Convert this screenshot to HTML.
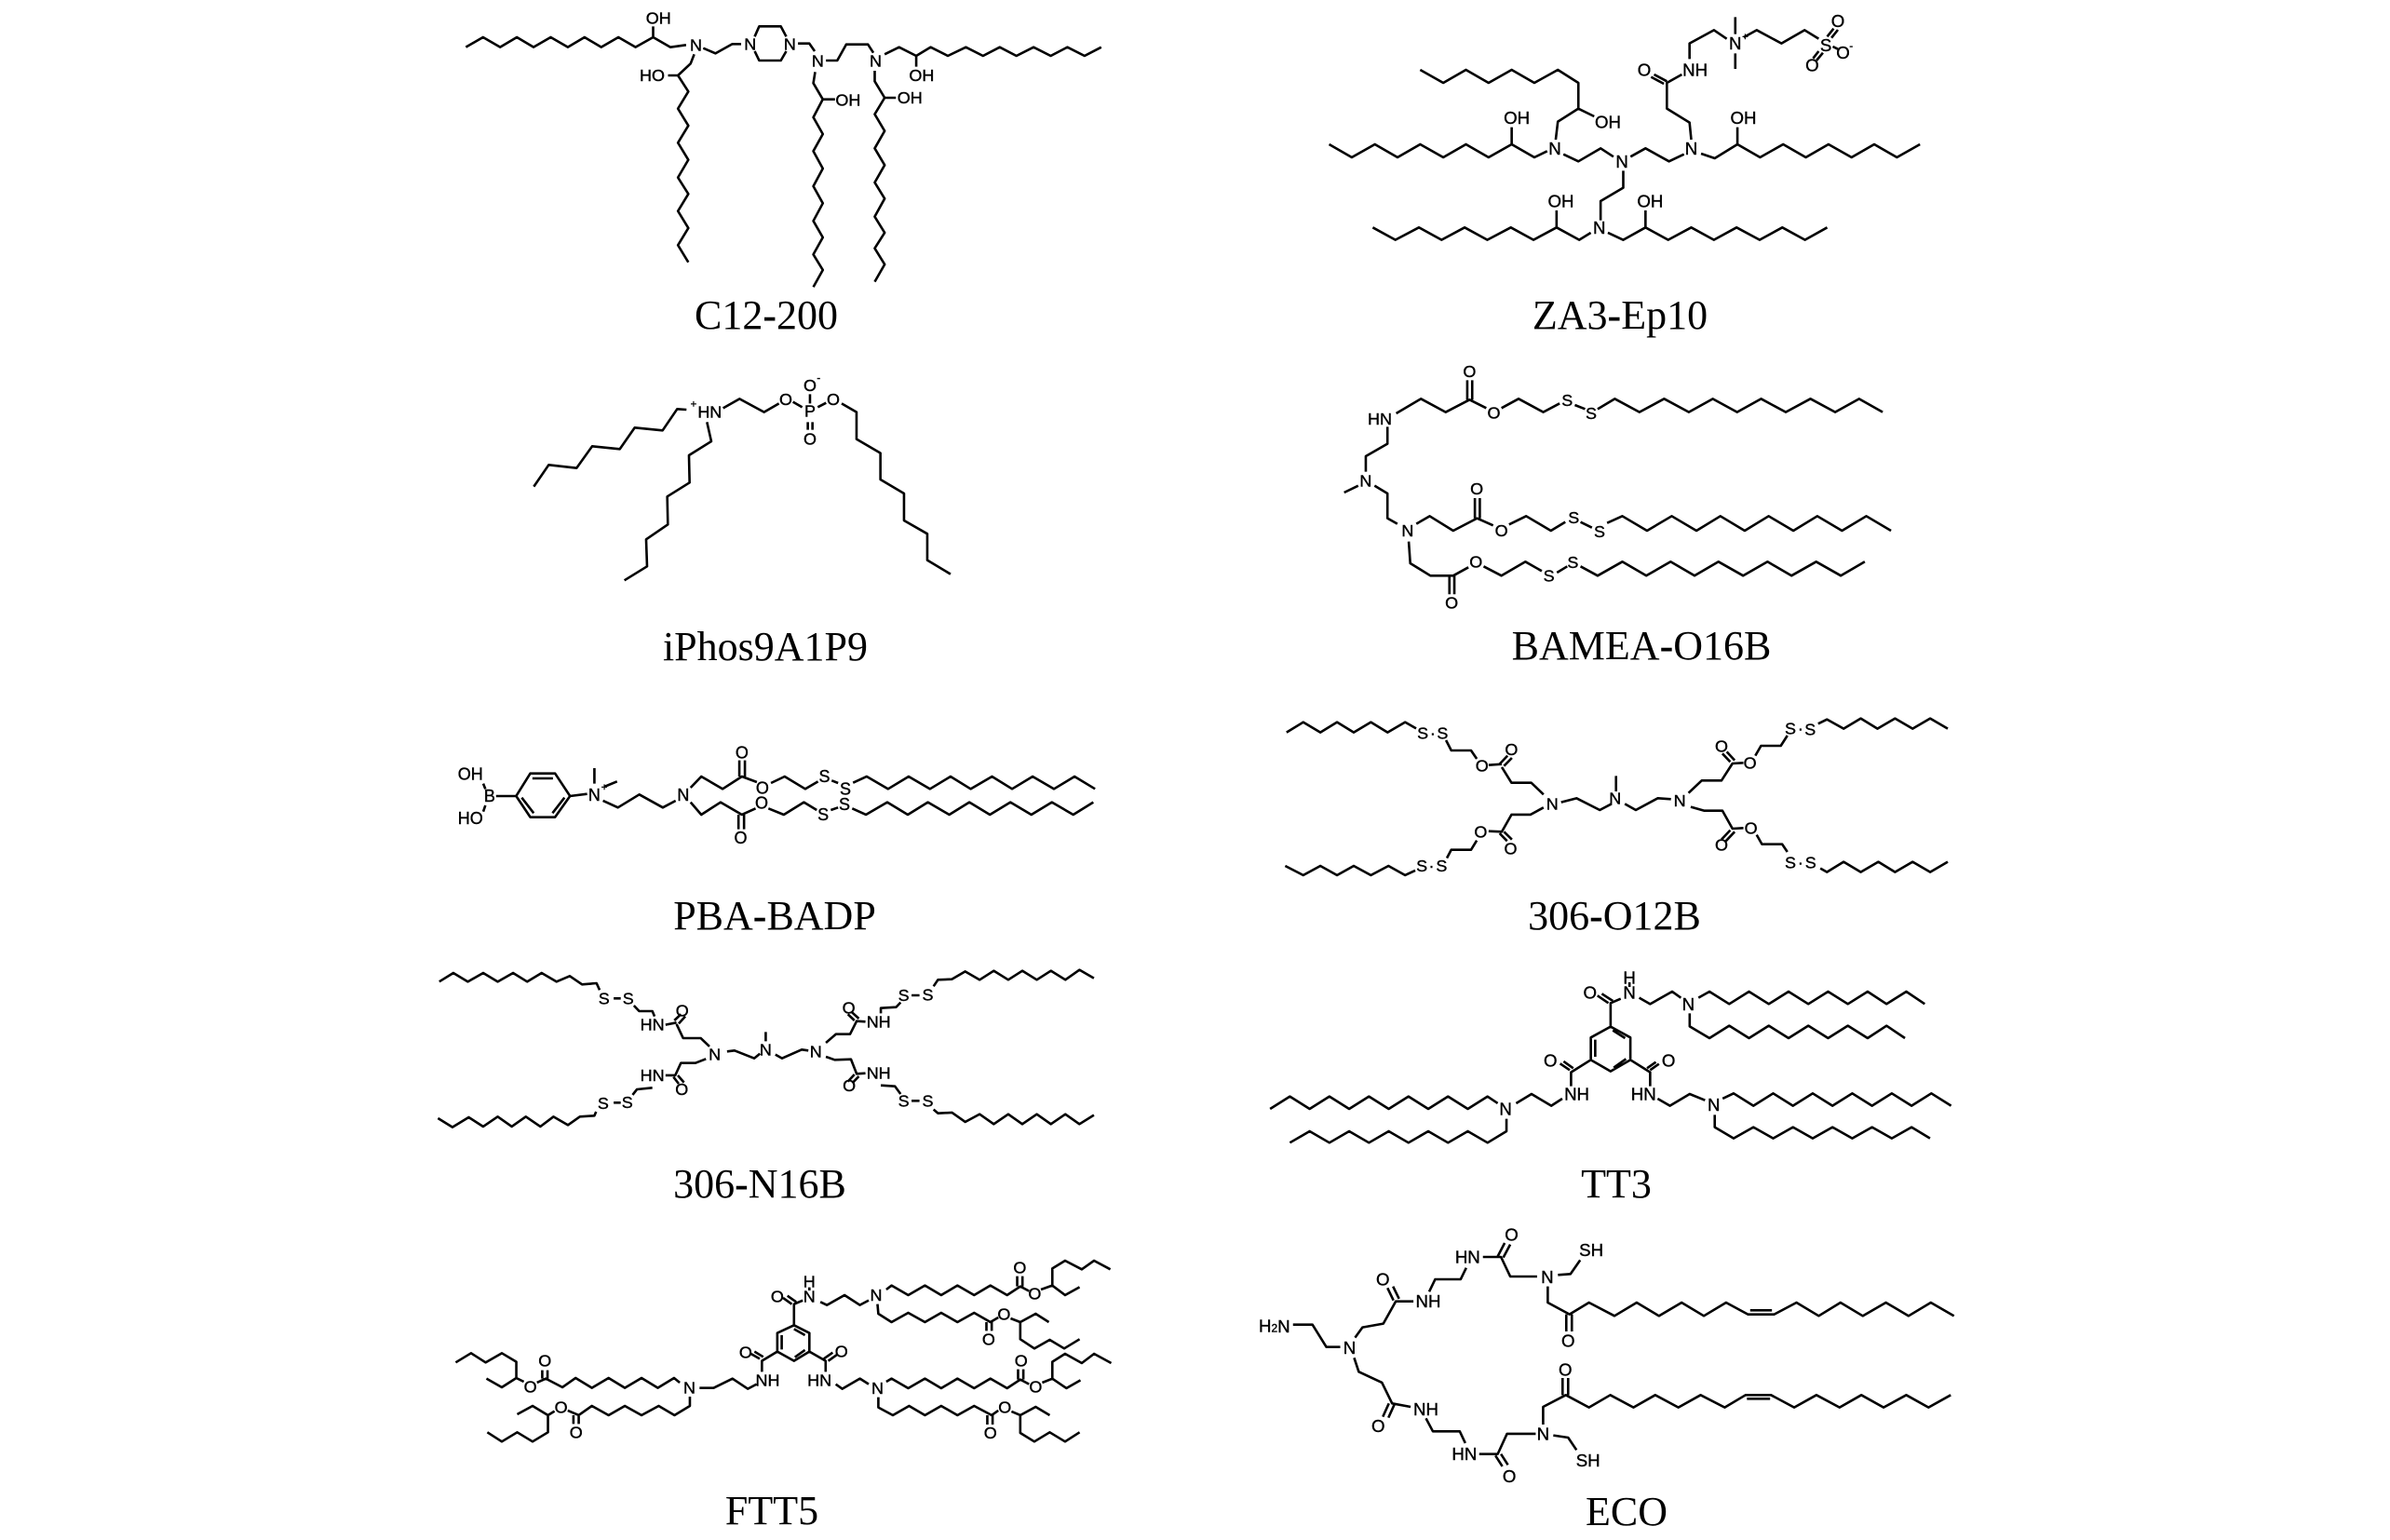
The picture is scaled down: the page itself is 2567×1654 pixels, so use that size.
<!DOCTYPE html>
<html><head><meta charset="utf-8"><title>Lipids</title>
<style>
html,body{margin:0;padding:0;background:#fff}
svg{display:block}
path{fill:none;stroke:#000;stroke-width:2.6;vector-effect:non-scaling-stroke;stroke-linejoin:round}
.m text{font-family:"Liberation Sans",sans-serif;text-anchor:middle;dominant-baseline:central;fill:#000;stroke:#000;stroke-width:1.2;transform-box:fill-box;transform-origin:center}
.m text.s{font-size:34px}
.a text{font-size:54px;transform:scaleX(.688)}
.b text{font-size:56px;transform:scaleX(.726)}
.c text{font-size:54px}
.d text{font-size:54px;transform:scaleX(.817)}
.e text{font-size:54px;transform:scaleX(.726)}
.f text{font-size:54px;transform:scaleX(.706)}
.g text{font-size:56px;transform:scaleX(.706)}
.h text{font-size:56px;transform:scaleX(.67)}
.cap{font-family:"Liberation Serif",serif;font-size:44px;text-anchor:middle;fill:#000}
.cap tspan{font-weight:bold}
</style></head><body>
<svg width="2567" height="1654" viewBox="0 0 2567 1654" xmlns="http://www.w3.org/2000/svg">
<rect width="2567" height="1654" fill="#fff"/>

<!-- C12-200 -->
<g class="m a" transform="translate(480,0) scale(.4847,.3333)">
<path d="M42 152 80 120 118 152 155 120 192 152 230 120 268 152 305 120 342 152 380 120 418 152 457 120 495 152 530 145M457 120V85M568 155 595 172 632 142 652 142M682 118 692 85 740 85 752 118M752 165 740 195 692 195 682 165M778 140 803 140 815 165M840 195 865 195 885 143 933 143 945 170M970 175 1002 152 1040 180 1072 152 1110 180 1150 152 1188 180 1225 152 1262 180 1300 152 1338 180 1375 152 1413 180 1450 152M1040 180V215M548 175 540 205 512 243 535 295 512 350 535 405 512 460 535 515 512 572 535 625 512 680 535 735 512 790 535 845M490 243H512M816 232 812 268 833 320 812 378 833 432 812 487 833 543 812 600 833 655 812 712 833 765 812 820 833 870 812 925M833 320H860M948 228 948 262 970 315 948 368 970 422 948 478 970 532 948 588 970 640 948 698 970 750 948 800 970 852 948 908M970 315H995"/>
<text x="469" y="58">OH</text><text x="552" y="145">N</text><text x="672" y="142">N</text><text x="760" y="142">N</text><text x="822" y="197">N</text><text x="950" y="197">N</text><text x="1052" y="243">OH</text><text x="455" y="243">HO</text><text x="889" y="322">OH</text><text x="1026" y="315">OH</text>
</g>
<text class="cap" x="823" y="353">C12<tspan>-</tspan>200</text>

<!-- ZA3-Ep10 -->
<g class="m b" transform="translate(1400,0) scale(.4592,.3333)">
<path d="M273 225 327 267 380 225 433 267 487 225 540 267 595 225 643 267 643 350 595 392 590 450M643 350 680 375M60 465 113 507 167 465 220 507 273 465 327 507 380 465 433 507 487 465 540 507 570 487M487 465V410M608 497 643 520 695 478 725 505M765 505 800 478 855 520 890 497M907 450 903 395 850 350 850 267 885 240M850 262 820 240M843 270 813 248M903 190 903 140 960 97 990 125M1010 55V110M1010 172V222M1030 120 1060 97 1118 140 1172 97 1205 125M1225 118 1240 92M1235 122 1250 96M1205 165 1192 188M1215 170 1200 195M1238 150 1250 158M930 495 962 510 1015 465 1068 507 1122 465 1175 507 1228 465 1282 507 1335 465 1388 507 1442 465M1015 465V410M748 550 748 605 695 648 695 710M162 733 215 773 270 733 323 773 377 733 430 773 485 733 538 773 592 733 645 773 672 750M592 733V678M712 750 748 773 800 733 853 773 907 733 960 773 1013 733 1067 773 1120 733 1173 773 1225 733M800 733V678"/>
<text x="712" y="393">OH</text><text x="588" y="478">N</text><text x="499" y="380">OH</text><text x="745" y="520">N</text><text x="907" y="478">N</text><text x="797" y="225">O</text><text x="916" y="225">NH</text><text x="1010" y="140">N</text><text class="s" x="1033" y="120">+</text><text x="1222" y="145">S</text><text x="1250" y="68">O</text><text x="1190" y="210">O</text><text x="1262" y="170">O</text><text class="s" x="1281" y="150">-</text><text x="1029" y="380">OH</text><text x="692" y="733">N</text><text x="602" y="648">OH</text><text x="811" y="648">OH</text>
</g>
<text class="cap" x="1740" y="353">ZA3<tspan>-</tspan>Ep10</text>

<!-- iPhos9A1P9 -->
<g class="m c" transform="translate(550,390) scale(.3333)">
<path d="M70 398 118 328 208 338 258 268 347 277 395 208 485 217 532 148 562 150M680 145 733 115 812 158 860 130M905 125 935 142M985 142 1012 128M960 130V100M953 190V215M968 190V215M1062 130 1110 158 1110 245 1187 290 1187 375 1263 420 1263 507 1338 550 1338 635 1413 680M628 190 642 252 570 297 572 385 500 430 502 520 432 568 435 655 362 700"/>
<text class="s" x="585" y="133">+</text><text x="637" y="158">HN</text><text x="882" y="117">O</text><text x="960" y="155">P</text><text x="1035" y="117">O</text><text x="960" y="72">O</text><text class="s" x="988" y="50">-</text><text x="960" y="245">O</text>
</g>
<text class="cap" x="822" y="709">iPhos9A1P9</text>

<!-- BAMEA-O16B -->
<g class="m d" transform="translate(1420,370) scale(.4082,.3333)">
<path d="M195 222 260 175 325 218 388 178 432 205M472 205 517 175 582 218 625 190M665 195 692 208M725 208 770 175 835 218 900 175 965 218 1028 175 1092 218 1155 175 1220 218 1285 175 1350 218 1413 175 1475 218M382 178V115M395 178V115M172 265 172 320 115 360 115 410M95 455 58 477M138 455 172 480 172 560 198 578M248 578 283 553 345 600 408 560 450 583M492 580 537 553 602 600 640 572M680 572 710 590M750 575 790 553 855 600 920 553 985 600 1048 553 1112 600 1175 553 1240 600 1303 553 1368 600 1432 553 1497 600M402 560V495M415 560V495M228 635 232 705 285 745 345 745 385 718M425 715 472 745 535 700 578 730M618 735 645 715M680 715 725 745 790 700 853 745 917 700 980 745 1043 700 1108 745 1172 700 1235 745 1300 700 1365 745 1428 700M335 745V805M348 745V805"/>
<text x="152" y="240">HN</text><text x="452" y="220">O</text><text x="645" y="180">S</text><text x="708" y="222">S</text><text x="388" y="87">O</text><text x="115" y="440">N</text><text x="225" y="600">N</text><text x="472" y="600">O</text><text x="662" y="558">S</text><text x="730" y="603">S</text><text x="407" y="465">O</text><text x="405" y="700">O</text><text x="597" y="745">S</text><text x="660" y="702">S</text><text x="341" y="833">O</text>
</g>
<text class="cap" x="1763" y="708">BAMEA<tspan>-</tspan>O16B</text>

<!-- PBA-BADP -->
<g class="m e" transform="translate(480,760) scale(.4592,.3333)">
<path d="M85 245 90 262M85 335 90 315M115 285H162M162 285 195 212 253 212 288 285 253 353 195 353ZM200 228H248M175 290 203 340M275 290 247 340M288 285 328 278M345 195V245M368 255 398 238M365 300 400 322 450 280 505 322 535 300M570 258 595 222 645 262 690 222 725 240M758 243 790 222 838 262 868 238M900 235 915 243M950 242 982 222 1032 262 1080 222 1130 262 1178 222 1225 262 1275 222 1322 262 1370 222 1420 262 1468 222 1516 262M684 222V170M697 222V170M570 305 595 345 640 305 690 345 722 325M752 325 788 345 835 305 865 330M898 330 915 322M948 325 980 345 1030 305 1078 345 1125 305 1175 345 1222 305 1270 345 1318 305 1367 345 1415 305 1465 345 1512 305M682 345V392M695 345V392"/>
<text x="55" y="215">OH</text><text x="55" y="357">HO</text><text x="100" y="285">B</text><text x="345" y="282">N</text><text class="s" x="368" y="258">+</text><text x="553" y="282">N</text><text x="738" y="260">O</text><text x="883" y="222">S</text><text x="932" y="262">S</text><text x="690" y="145">O</text><text x="736" y="308">O</text><text x="880" y="345">S</text><text x="930" y="312">S</text><text x="687" y="420">O</text>
</g>
<text class="cap" x="832" y="998">PBA<tspan>-</tspan>BADP</text>

<!-- 306-O12B -->
<g class="m f" transform="translate(1370,750) scale(.4719,.3333)">
<path d="M25 110 63 77 102 110 140 77 178 110 217 77 255 110 295 77 320 97M388 135 400 168 445 168 458 195M485 215 515 212M510 212 528 185M520 218 538 192M515 222 537 272 582 272 610 310M650 335 685 322 738 360 765 340M775 250V300M795 340 820 360 870 322 900 325M940 305 970 265 1015 265 1040 210 1065 208M1035 205 1017 178M1045 200 1027 172M1092 185 1105 153 1150 153 1165 120M1235 82 1255 68 1293 98 1332 65 1370 98 1410 65 1450 98 1490 65 1530 98M945 350 975 362 1017 362 1040 420 1065 418M1035 425 1015 455M1045 430 1025 460M1095 440 1107 470 1153 470 1165 495M1240 548 1255 560 1293 527 1332 560 1372 527 1410 560 1450 527 1490 560 1530 527M610 352 580 375 537 375 515 430 485 428M510 435 527 460M520 430 538 455M458 458 445 488 400 488 390 515M318 555 295 570 257 540 217 570 178 540 140 570 102 540 63 570 22 540"/>
<text x="335" y="113">S</text><text x="358" y="113">·</text><text x="380" y="113">S</text><text x="470" y="218">O</text><text x="537" y="165">O</text><text x="630" y="340">N</text><text x="773" y="322">N</text><text x="920" y="330">N</text><text x="1015" y="155">O</text><text x="1080" y="208">O</text><text x="1172" y="97">S</text><text x="1195" y="97">·</text><text x="1217" y="100">S</text><text x="1015" y="472">O</text><text x="1082" y="418">O</text><text x="1172" y="530">S</text><text x="1195" y="530">·</text><text x="1218" y="530">S</text><text x="467" y="430">O</text><text x="535" y="485">O</text><text x="333" y="540">S</text><text x="355" y="540">·</text><text x="378" y="540">S</text>
</g>
<text class="cap" x="1734" y="998">306<tspan>-</tspan>O12B</text>

<!-- 306-N16B -->
<g class="m f" transform="translate(460,1020) scale(.4719,.3333)">
<path d="M25 103 57 75 90 103 125 75 158 103 193 75 225 103 258 75 292 103 322 85 350 112 383 108 390 130M422 157H438M468 180 480 198 510 198 515 215M540 242 565 235M560 228 575 208M570 238 585 215M565 240 580 285 620 285 640 312M680 328 697 325 742 350 755 335M768 265V295M790 338 805 350 850 322 865 325M905 300 928 272 960 272 975 230 995 232M970 228 955 208M980 222 963 200M1030 205 1030 188 1065 185 1075 170M1100 147H1118M1150 118 1160 97 1192 95 1222 70 1255 97 1287 68 1320 97 1352 68 1385 97 1417 68 1450 97 1482 65 1515 92M905 345 925 355 962 353 975 400 995 398M970 402 955 425M980 408 965 430M1030 437 1062 440 1075 465M1100 487H1118M1150 515 1160 527 1192 525 1222 555 1255 530 1287 562 1320 530 1352 562 1385 530 1417 562 1450 530 1482 562 1515 533M632 352 608 365 575 365 562 405 540 405M558 410 570 432M568 405 582 428M510 445 475 450 465 468M422 493H438M382 522 378 535 345 538 318 565 285 538 255 570 222 538 190 570 158 538 125 570 92 540 55 572 22 543"/>
<text x="400" y="157">S</text><text x="455" y="157">S</text><text x="510" y="242">HN</text><text x="578" y="197">O</text><text x="652" y="337">N</text><text x="768" y="322">N</text><text x="882" y="328">N</text><text x="957" y="188">O</text><text x="1025" y="232">NH</text><text x="1082" y="147">S</text><text x="1137" y="145">S</text><text x="958" y="438">O</text><text x="1025" y="398">NH</text><text x="1082" y="487">S</text><text x="1137" y="487">S</text><text x="510" y="405">HN</text><text x="577" y="450">O</text><text x="453" y="492">S</text><text x="398" y="495">S</text>
</g>
<text class="cap" x="816" y="1286">306<tspan>-</tspan>N16B</text>

<!-- TT3 -->
<g class="m g" transform="translate(1350,1020) scale(.4719,.3333)">
<path d="M805 248 850 283 850 355 805 392 760 355 760 283ZM770 290V345M812 380 840 352M810 260 838 285M805 248V172L828 158M800 172 775 148M810 165 785 142M848 105V120M870 155 895 175 945 135 965 155M1005 155 1030 135 1075 175 1120 135 1165 175 1210 135 1255 175 1300 135 1345 175 1390 135 1433 175 1478 135 1520 175M985 205 985 247 1030 285 1075 245 1120 285 1165 245 1210 285 1255 245 1300 285 1345 245 1390 285 1433 245 1475 285M760 355 715 395 715 440M712 388 690 367M720 382 698 360M695 480 670 503 625 465 590 495M548 495 525 473 480 513 435 473 390 513 345 473 300 513 255 473 210 513 165 473 120 513 75 473 30 513M568 545 568 585 525 622 480 585 435 622 390 585 345 622 300 585 255 622 210 585 165 622 120 585 75 622M850 355 895 395 895 440M895 388 915 368M888 382 908 362M912 480 940 503 985 465 1020 485M1060 480 1085 463 1130 503 1175 463 1220 503 1265 463 1310 503 1355 463 1400 503 1445 463 1490 503 1535 463 1580 503M1042 532 1042 572 1085 608 1130 572 1175 608 1220 572 1265 608 1310 572 1355 608 1400 572 1445 608 1490 572 1532 608"/>
<text x="758" y="138">O</text><text x="848" y="138">N</text><text x="848" y="90">H</text><text x="982" y="175">N</text><text x="668" y="357">O</text><text x="728" y="465">NH</text><text x="566" y="513">N</text><text x="937" y="357">O</text><text x="880" y="465">HN</text><text x="1040" y="500">N</text>
</g>
<text class="cap" x="1736" y="1286">TT3</text>

<!-- FTT5 -->
<g class="m f" transform="translate(480,1330) scale(.4719,.3333)">
<path d="M790 280 825 305 825 365 790 395 752 365 752 305ZM790 292 815 312M762 312V358M792 383 815 360M790 280V212L810 200M785 212 765 192M795 205 775 185M825 158V168M850 205 865 215 905 183 940 215 960 200M1000 165 1012 152 1050 183 1088 152 1125 183 1162 152 1200 183 1237 152 1275 183 1305 155 1325 170M1298 155V122M1310 155V122M1352 165 1378 152 1378 97 1407 72 1445 100 1473 72 1510 100M1378 152 1407 183 1440 157M980 212 982 243 1012 270 1050 240 1088 270 1125 240 1162 270 1200 240 1237 270 1255 255M1228 270V298M1240 270V298M1283 258 1305 270 1340 243 1370 270M1305 270 1305 325 1337 355 1372 327 1405 355 1440 325M752 365 717 395 717 430M712 388 692 372M720 382 700 365M705 470 685 485 650 452 607 482 575 482M530 465 517 450 480 482 443 450 405 482 368 450 330 482 293 450 263 480 225 452 205 465M217 452V425M229 452V425M175 462 158 450 158 398 125 370 88 400 55 370 20 400M158 450 125 480 90 452M553 510 553 540 518 570 482 540 443 570 405 540 368 570 330 540 300 570 275 555M288 570V598M300 570V598M245 557 230 570 195 540 160 567M230 570 230 625 195 655 160 625 125 655 92 625M825 365 862 395 862 430M858 388 878 368M868 395 888 375M885 470 900 485 940 452 960 470M1000 462 1012 452 1050 483 1088 452 1125 483 1162 452 1200 483 1237 452 1275 483 1305 455 1325 470M1300 455V422M1312 455V422M1355 465 1378 452 1378 398 1407 372 1445 402 1473 372 1512 402M1378 452 1410 483 1442 457M982 512 982 545 1015 570 1052 540 1088 570 1125 540 1162 570 1200 540 1240 570 1255 555M1230 570V600M1242 570V600M1285 558 1305 570 1340 543 1372 570M1305 570 1305 627 1337 655 1372 625 1407 655 1440 625"/>
<text x="752" y="187">O</text><text x="825" y="187">N</text><text x="825" y="140">H</text><text x="977" y="183">N</text><text x="1338" y="178">O</text><text x="1304" y="95">O</text><text x="1268" y="245">O</text><text x="1233" y="325">O</text><text x="680" y="367">O</text><text x="730" y="457">NH</text><text x="552" y="482">N</text><text x="190" y="478">O</text><text x="223" y="395">O</text><text x="260" y="545">O</text><text x="294" y="625">O</text><text x="898" y="365">O</text><text x="848" y="457">HN</text><text x="980" y="483">N</text><text x="1340" y="478">O</text><text x="1307" y="395">O</text><text x="1270" y="545">O</text><text x="1237" y="627">O</text>
</g>
<text class="cap" x="829" y="1637">FTT5</text>

<!-- ECO -->
<g class="m h" transform="translate(1340,1300) scale(.4975,.3333)">
<path d="M98 368 140 368 170 440 200 440M232 410 248 377 293 365 320 293 358 293M315 290 302 250M327 285 314 245M392 262 405 222 460 222 472 185M508 150 547 150 567 213 625 213M540 148 555 105M552 152 567 110M670 208 697 205 718 160M648 245 648 297 695 335 737 297 792 340 840 297 888 340 937 297 985 340 1033 297 1080 335 1137 335 1185 297 1233 340 1280 297 1328 340 1378 297 1427 340 1475 297 1525 340M1085 322H1132M688 335V390M700 335V390M230 475 240 520 290 555 312 622 352 633M305 622 292 665M317 625 304 668M385 670 400 712 458 712 470 750M500 785 540 785 560 720 622 720M535 790 550 825M547 785 562 820M660 725 692 732 710 772M638 690 638 633 687 595 737 635 783 595 833 635 880 595 930 635 978 595 1030 635 1075 595 1130 595 1180 635 1228 595 1278 635 1325 595 1373 635 1422 595 1470 635 1518 595M1078 607H1128M680 595V540M692 595V540"/>
<text x="58" y="372">H<tspan font-size="36" dy="8">2</tspan><tspan dy="-8">N</tspan></text><text x="220" y="442">N</text><text x="292" y="222">O</text><text x="390" y="293">NH</text><text x="475" y="150">HN</text><text x="570" y="78">O</text><text x="647" y="215">N</text><text x="742" y="128">SH</text><text x="692" y="420">O</text><text x="282" y="695">O</text><text x="385" y="640">NH</text><text x="468" y="785">HN</text><text x="565" y="857">O</text><text x="638" y="720">N</text><text x="735" y="805">SH</text><text x="686" y="513">O</text>
</g>
<text class="cap" x="1747" y="1638">ECO</text>
</svg>
</body></html>
